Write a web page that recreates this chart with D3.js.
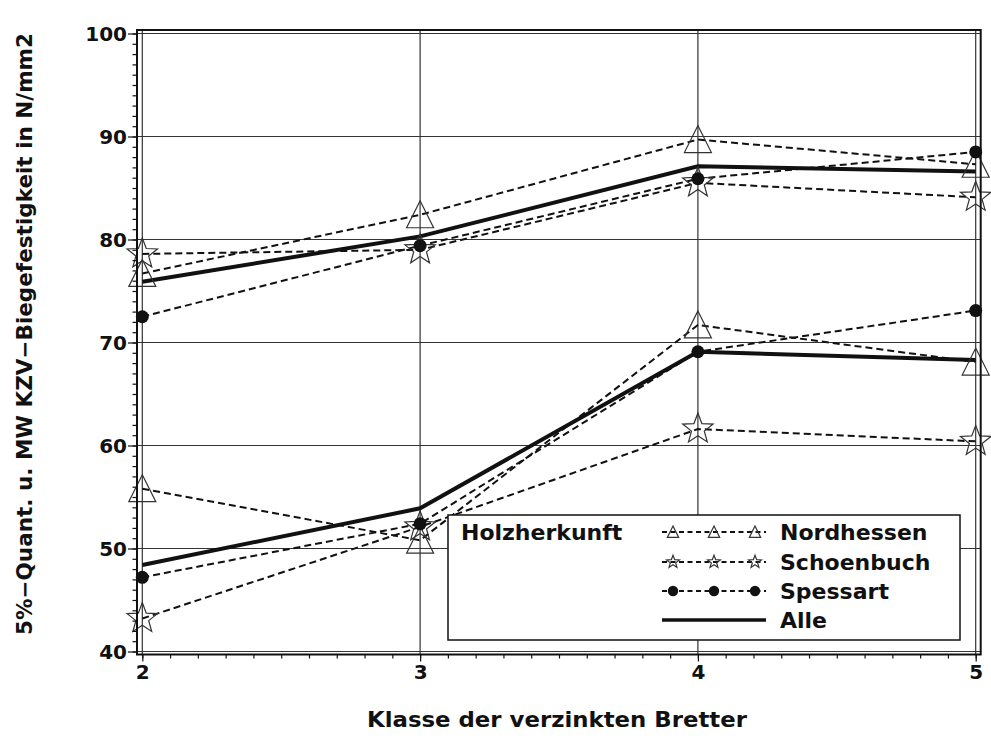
<!DOCTYPE html>
<html>
<head>
<meta charset="utf-8">
<script src="https://cdn.jsdelivr.net/npm/d3@7"></script>
<style>
  body { margin: 0; background: #fff; }
  text { font-family: "DejaVu Sans", sans-serif; font-weight: bold; fill: #111; }
</style>
</head>
<body>
<div id="chart"></div>
<script>
// Klassen (x) und Achsen-Ticks
var klassen = [2, 3, 4, 5];
var yTicks = [40, 50, 60, 70, 80, 90, 100];

// Mittelwerte (obere Gruppe)
var nordhessenMW = [76.7, 82.4, 89.7, 87.3];
var schoenbuchMW = [78.6, 79.0, 85.5, 84.1];
var spessartMW   = [72.5, 79.4, 85.9, 88.5];
var alleMW       = [75.9, 80.3, 87.1, 86.6];

// 5%-Quantile (untere Gruppe)
var nordhessenQ5 = [55.8, 50.8, 71.7, 68.1];
var schoenbuchQ5 = [43.2, 52.1, 61.6, 60.4];
var spessartQ5   = [47.2, 52.4, 69.1, 73.1];
var alleQ5       = [48.4, 53.9, 69.1, 68.3];

var herkunft = ["Nordhessen", "Schoenbuch", "Spessart", "Alle"];
var markerTyp = ["triangle", "star", "circle", "none"];

var series = [
  { name: "Nordhessen", marker: "triangle", values: nordhessenMW },
  { name: "Nordhessen", marker: "triangle", values: nordhessenQ5 },
  { name: "Schoenbuch", marker: "star", values: schoenbuchMW },
  { name: "Schoenbuch", marker: "star", values: schoenbuchQ5 },
  { name: "Spessart", marker: "circle", values: spessartMW },
  { name: "Spessart", marker: "circle", values: spessartQ5 },
  { name: "Alle", marker: "none", values: alleMW },
  { name: "Alle", marker: "none", values: alleQ5 }
];

var width = 991, height = 748;

var svg = d3.select("#chart").append("svg")
  .attr("width", width)
  .attr("height", height);

var x = d3.scaleLinear().domain([2, 5]).range([142.3, 975.7]);
var y = d3.scaleLinear().domain([40, 100]).range([651.5, 33.5]);

var frame = { left: 137, right: 980.7, top: 30, bottom: 654.5 };

// star path, outer radius r
function starPath(r) {
  var pts = [];
  for (var i = 0; i < 10; i++) {
    var rr = i % 2 === 0 ? r : r * 0.42;
    var a = -Math.PI / 2 + i * Math.PI / 5;
    pts.push([rr * Math.cos(a), rr * Math.sin(a)]);
  }
  return "M" + pts.map(function(p) { return p[0].toFixed(2) + "," + p[1].toFixed(2); }).join("L") + "Z";
}
function trianglePath(s) {
  return "M0," + (-s * 1.04) + "L" + s + "," + (s * 0.96) + "L" + (-s) + "," + (s * 0.96) + "Z";
}

function drawMarker(g, type, scale) {
  if (type === "triangle") {
    g.append("path").attr("d", trianglePath(13.5 * scale))
      .attr("fill", "none").attr("stroke", "#333").attr("stroke-width", 1.2);
  } else if (type === "star") {
    g.append("path").attr("d", starPath(16 * scale))
      .attr("fill", "none").attr("stroke", "#333").attr("stroke-width", 1.2);
  } else if (type === "circle") {
    g.append("circle").attr("r", 6.5 * scale).attr("fill", "#111");
  }
}

// grid
svg.append("g").selectAll("line")
  .data(klassen).enter().append("line")
  .attr("x1", function(d) { return x(d); })
  .attr("x2", function(d) { return x(d); })
  .attr("y1", frame.top).attr("y2", frame.bottom)
  .attr("stroke", "#333").attr("stroke-width", 1.2);

svg.append("g").selectAll("line")
  .data(yTicks).enter().append("line")
  .attr("x1", frame.left).attr("x2", frame.right)
  .attr("y1", function(d) { return y(d); })
  .attr("y2", function(d) { return y(d); })
  .attr("stroke", "#333").attr("stroke-width", 1.2);

// lines
var line = d3.line()
  .x(function(d, i) { return x(klassen[i]); })
  .y(function(d) { return y(d); });

svg.selectAll(".serie")
  .data(series).enter().append("path")
  .attr("class", "serie")
  .attr("fill", "none")
  .attr("stroke", "#111")
  .attr("stroke-width", function(d) { return d.name === "Alle" ? 4 : 2; })
  .attr("stroke-dasharray", function(d) { return d.name === "Alle" ? null : "7,4"; })
  .attr("d", function(d) { return line(d.values); });

// markers
series.forEach(function(s) {
  s.values.forEach(function(v, i) {
    var g = svg.append("g").attr("transform", "translate(" + x(klassen[i]) + "," + y(v) + ")");
    drawMarker(g, s.marker, 1);
  });
});

// frame
svg.append("rect")
  .attr("x", frame.left).attr("y", frame.top)
  .attr("width", frame.right - frame.left)
  .attr("height", frame.bottom - frame.top)
  .attr("fill", "none").attr("stroke", "#111").attr("stroke-width", 2);

// y axis
var yMinor = d3.axisLeft(y).tickValues(d3.range(40, 101, 1)).tickSize(4.5).tickFormat("");
var yMajor = d3.axisLeft(y).tickValues(yTicks).tickSize(9).tickPadding(1);

svg.append("g").attr("transform", "translate(" + frame.left + ",0)").call(yMinor)
  .call(function(g) { g.select(".domain").remove(); });
var ya = svg.append("g").attr("transform", "translate(" + frame.left + ",0)").call(yMajor);
ya.select(".domain").remove();
ya.selectAll("text").style("font-size", "20px").attr("dy", "0.36em")
  .style("font-family", "DejaVu Sans").style("font-weight", "bold");
svg.selectAll(".tick line").attr("stroke", "#111").attr("stroke-width", 1.2);

// x axis
var xMinor = d3.axisBottom(x).tickValues(d3.range(0, 31).map(function(i) { return 2 + i / 10; }))
  .tickSize(4).tickFormat("");
var xMajor = d3.axisBottom(x).tickValues(klassen).tickSize(7).tickPadding(3.5).tickFormat(d3.format("d"));

svg.append("g").attr("transform", "translate(0," + frame.bottom + ")").call(xMinor)
  .call(function(g) { g.select(".domain").remove(); });
var xa = svg.append("g").attr("transform", "translate(0," + frame.bottom + ")").call(xMajor);
xa.select(".domain").remove();
xa.selectAll("text").style("font-size", "20px")
  .style("font-family", "DejaVu Sans").style("font-weight", "bold");
svg.selectAll(".tick line").attr("stroke", "#111").attr("stroke-width", 1.2);

// axis titles
svg.append("text")
  .attr("transform", "translate(32,334) rotate(-90)")
  .attr("text-anchor", "middle")
  .attr("textLength", 602)
  .attr("lengthAdjust", "spacingAndGlyphs")
  .style("font-size", "21px")
  .text("5%\u2212Quant. u. MW KZV\u2212Biegefestigkeit in N/mm2");

svg.append("text")
  .attr("x", 557).attr("y", 727)
  .attr("text-anchor", "middle")
  .attr("textLength", 380)
  .attr("lengthAdjust", "spacingAndGlyphs")
  .style("font-size", "22px")
  .text("Klasse der verzinkten Bretter");

// legend
var legend = svg.append("g");
legend.append("rect")
  .attr("x", 448).attr("y", 515).attr("width", 512).attr("height", 125)
  .attr("fill", "#fff").attr("stroke", "#111").attr("stroke-width", 1.5);

legend.append("text").attr("x", 461).attr("y", 540)
  .style("font-size", "22px").text("Holzherkunft");

var rowY = [532, 562, 591, 620];
var sampleX = [673, 714, 755];
herkunft.forEach(function(name, i) {
  var row = legend.append("g");
  row.append("line")
    .attr("x1", 662).attr("x2", 766)
    .attr("y1", rowY[i]).attr("y2", rowY[i])
    .attr("stroke", "#111")
    .attr("stroke-width", name === "Alle" ? 3.5 : 1.8)
    .attr("stroke-dasharray", name === "Alle" ? null : "5,3.5");
  if (markerTyp[i] !== "none") {
    sampleX.forEach(function(sx) {
      var g = row.append("g").attr("transform", "translate(" + sx + "," + rowY[i] + ")");
      drawMarker(g, markerTyp[i], markerTyp[i] === "circle" ? 0.8 : 0.42);
    });
  }
  row.append("text").attr("x", 780).attr("y", rowY[i] + 8)
    .style("font-size", "22px").text(name);
});
</script>
</body>
</html>
